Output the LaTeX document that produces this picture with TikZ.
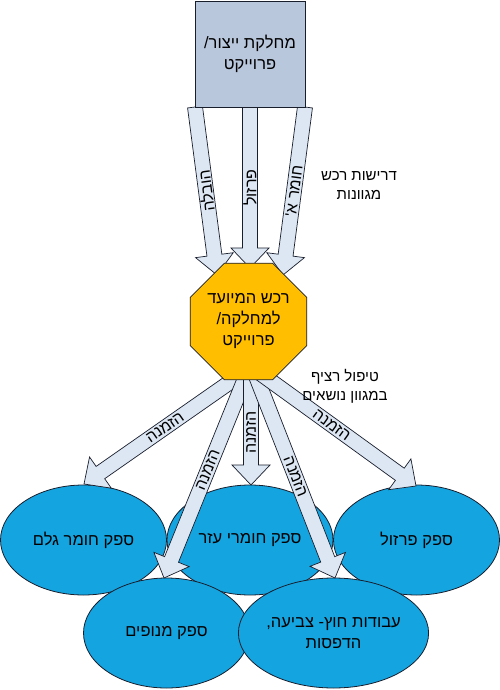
\documentclass[tikz,border=0pt]{standalone}
\usepackage{fontspec}
\newfontfamily\heb[Script=Hebrew]{Liberation Sans}
\TeXXeTstate=1
\usetikzlibrary{calc,shapes.geometric}
\definecolor{rectfill}{RGB}{185,199,221}
\definecolor{octfill}{RGB}{255,190,0}
\definecolor{ellfill}{RGB}{20,165,225}
\definecolor{arrfill}{RGB}{221,231,243}
\definecolor{edgecol}{RGB}{25,30,45}
\tikzset{
  arrowbody/.style={draw=edgecol,fill=arrfill,line width=0.7pt,line join=miter},
  arrowlabel/.style={font=\heb\fontsize{16}{18}\selectfont,inner sep=0pt},
  nodetext/.style={font=\heb\fontsize{16.5}{21}\selectfont,align=center,text=black},
  suppl/.style={ellipse,draw=edgecol,fill=ellfill,line width=0.8pt,minimum width=166pt,minimum height=110pt,inner sep=0pt,nodetext},
  freelabel/.style={font=\heb\fontsize{15}{19}\selectfont,align=center,inner sep=0pt},
}
\newcommand\barrow[5]{%
  \coordinate (#1c) at ($(#2)!20pt!(#1)$);
  \draw[arrowbody] ($(#1)!7.5pt!90:(#2)$) -- ($(#1c)!7.5pt!-90:(#1)$) -- ($(#1c)!19pt!-90:(#1)$) -- (#2) -- ($(#1c)!19pt!90:(#1)$) -- ($(#1c)!7.5pt!90:(#1)$) -- ($(#1)!7.5pt!-90:(#2)$) -- cycle;
  \path let \p1=($(#2)-(#1)$), \n1={atan2(\y1,\x1)+#4} in node[arrowlabel,rotate=\n1] at ($(#1)!#3!(#2)$) {#5};
}
\begin{document}
\begin{tikzpicture}[x=1pt,y=-1pt]
\useasboundingbox[fill=white] (0,0) rectangle (500,690);
% suppliers
\node[suppl] (e1) at (83.5,540) {\beginR ספק חומר גלם\endR};
\node[suppl] (e2) at (250,540) {\beginR ספק חומרי עזר\endR};
\node[suppl] (e3) at (416.5,540) {\beginR ספק פרזול\endR};
\node[suppl] (e4) at (166.5,633) {\beginR ספק מנופים\endR};
\node[suppl] (e5) at (333.5,633) {\beginR עבודות חוץ- צביעה,\endR\\\beginR הדפסות\endR};
% arrow end points
\coordinate (ta1) at (195,107); \coordinate (tb1) at (217,275);
\coordinate (ta2) at (250,107); \coordinate (tb2) at (250,268);
\coordinate (ta3) at (305,107); \coordinate (tb3) at (283,275);
\coordinate (ba1) at (246,371); \coordinate (bb1) at (84,484);
\coordinate (ba4) at (248,371); \coordinate (bb4) at (164,578);
\coordinate (ba2) at (251,371); \coordinate (bb2) at (251,485);
\coordinate (ba5) at (254,371); \coordinate (bb5) at (335,578);
\coordinate (ba3) at (257,371); \coordinate (bb3) at (416,486);
% top arrows
\barrow{ta2}{tb2}{0.5}{180}{\beginR פרזול\endR}
\barrow{ta1}{tb1}{0.5}{180}{\beginR הובלה\endR}
\barrow{ta3}{tb3}{0.5}{180}{\beginR חומר א'\endR}
% bottom arrows
\barrow{ba1}{bb1}{0.5}{180}{\beginR הזמנה\endR}
\barrow{ba4}{bb4}{0.48}{180}{\beginR הזמנה\endR}
\barrow{ba2}{bb2}{0.54}{180}{\beginR הזמנה\endR}
\barrow{ba5}{bb5}{0.51}{0}{\beginR הזמנה\endR}
\barrow{ba3}{bb3}{0.47}{0}{\beginR הזמנה\endR}
% central nodes
\node[regular polygon,regular polygon sides=8,minimum size=117pt,inner sep=0pt,draw=edgecol,fill=octfill,line width=0.8pt,nodetext] (oct) at (248.5,321.5) {\beginR רכש המיועד\endR\\\beginR למחלקה/\endR\\\beginR פרוייקט\endR};
\node[rectangle,draw=edgecol,fill=rectfill,line width=0.8pt,minimum width=110pt,minimum height=106pt,inner sep=0pt,nodetext] (dept) at (250,54) {\beginR מחלקת ייצור/\endR\\\beginR פרוייקט\endR};
% free labels
\node[freelabel] (req) at (359,186) {\beginR דרישות רכש\endR\\\beginR מגוונות\endR};
\node[freelabel] (cont) at (345,386) {\beginR טיפול רציף\endR\\\beginR במגוון נושאים\endR};
\end{tikzpicture}
\end{document}
